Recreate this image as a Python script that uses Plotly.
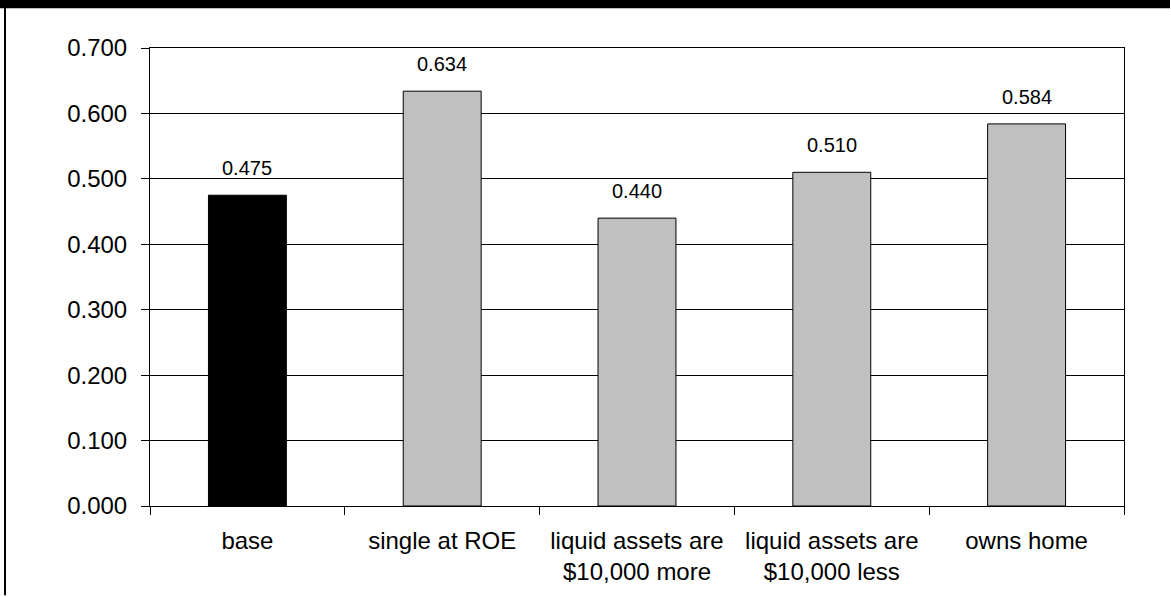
import plotly.graph_objects as go

categories = ["base", "single at ROE", "liquid assets are<br>$10,000 more",
              "liquid assets are<br>$10,000 less", "owns home"]
values = [0.475, 0.634, 0.440, 0.510, 0.584]
bar_colors = ["#000000", "#C0C0C0", "#C0C0C0", "#C0C0C0", "#C0C0C0"]
value_labels = ["0.475", "0.634", "0.440", "0.510", "0.584"]

W, H = 1171, 597
L, R, T, B = 150, 47, 48, 87
pw, ph = W - L - R, H - T - B

def px2paper_x(px):
    return (px - L) / pw

def px2paper_y(py):
    return (H - B - py) / ph

fig = go.Figure()
fig.add_trace(go.Bar(
    x=categories, y=values, width=0.4,
    marker=dict(color=bar_colors, line=dict(color="#000000", width=1)),
    hoverinfo="skip",
))

for c, v, t in zip(categories, values, value_labels):
    fig.add_annotation(x=c, y=v, text=t, showarrow=False, yanchor="bottom",
                       yshift=14, font=dict(family="Liberation Sans, Arial", size=20, color="#000000"))

shapes = [
    dict(type="rect", xref="paper", yref="paper",
         x0=px2paper_x(-2), x1=px2paper_x(1170), y0=px2paper_y(8), y1=px2paper_y(-2),
         fillcolor="#000000", line=dict(width=0), layer="above"),
    dict(type="rect", xref="paper", yref="paper",
         x0=px2paper_x(4), x1=px2paper_x(6), y0=px2paper_y(600), y1=px2paper_y(0),
         fillcolor="#000000", line=dict(width=0), layer="above"),
]

fig.update_layout(
    width=W, height=H,
    margin=dict(l=L, r=R, t=T, b=B, pad=0),
    paper_bgcolor="#FFFFFF", plot_bgcolor="#FFFFFF",
    showlegend=False,
    font=dict(family="Liberation Sans, Arial", size=24, color="#000000"),
    shapes=shapes,
)
fig.update_xaxes(
    type="category", tickson="boundaries", ticks="outside", ticklen=8,
    tickcolor="#000000", tickwidth=1, ticklabelstandoff=13,
    showline=True, linecolor="#000000", linewidth=1, mirror=True,
    showgrid=False, tickfont=dict(size=24),
)
fig.update_yaxes(
    range=[0, 0.7], dtick=0.1, tick0=0, tickformat=".3f",
    ticks="outside", ticklen=8, tickcolor="#000000", tickwidth=1, ticklabelstandoff=9,
    showline=True, linecolor="#000000", linewidth=1, mirror=True,
    showgrid=True, gridcolor="#000000", gridwidth=1,
    zeroline=False, tickfont=dict(size=24),
)

fig.write_html("out.html", config={"displayModeBar": False})
with open("out.html", "r", encoding="utf-8") as f:
    html = f.read()
html = html.replace("<body>", '<body style="margin:0;padding:0;overflow:hidden">', 1)
with open("out.html", "w", encoding="utf-8") as f:
    f.write(html)
